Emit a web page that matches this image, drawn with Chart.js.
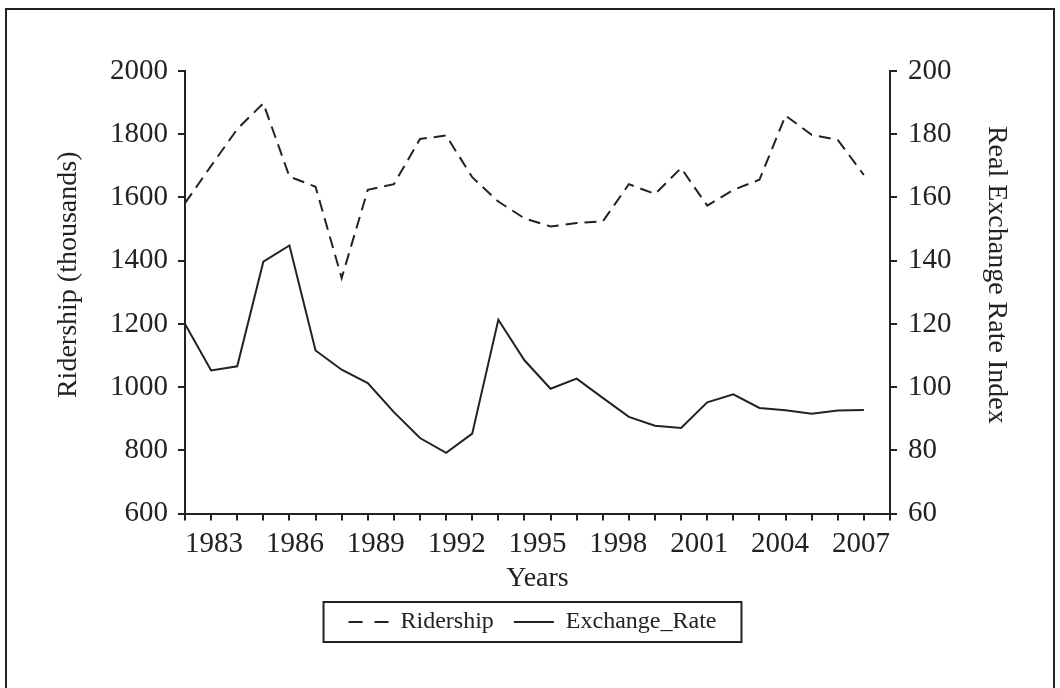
<!DOCTYPE html>
<html>
<head>
<meta charset="utf-8">
<script src="https://cdn.jsdelivr.net/npm/chart.js@4/dist/chart.umd.min.js"></script>
<style>
  html, body { margin: 0; padding: 0; background: #fff; overflow: hidden; }
  #wrap { position: relative; width: 1060px; height: 688px; }
  #frame { position: absolute; left: 5px; top: 8px; width: 1046px; height: 700px;
           border: 2px solid #222; pointer-events: none; }
</style>
</head>
<body>
<div id="wrap">
  <canvas id="myChart" width="1060" height="688"></canvas>
  <div id="frame"></div>
</div>
<script>
// one point per period, 1981 to 2007
const years = [1981, 1982, 1983, 1984, 1985, 1986, 1987, 1988, 1989, 1990, 1991, 1992, 1993, 1994,
               1995, 1996, 1997, 1998, 1999, 2000, 2001, 2002, 2003, 2004, 2005, 2006, 2007];
const ridership = [1582, 1700, 1816, 1898, 1666, 1634, 1345, 1624, 1642, 1785, 1796, 1664, 1587, 1534,
                   1508, 1519, 1524, 1642, 1611, 1693, 1574, 1624, 1656, 1859, 1798, 1782, 1671];
const exchangeRate = [120.0, 105.3, 106.6, 139.7, 144.8, 111.6, 105.5, 101.3, 92.1, 83.9, 79.2, 85.3, 121.3, 108.5,
                      99.5, 102.7, 96.6, 90.6, 87.8, 87.1, 95.2, 97.7, 93.4, 92.7, 91.6, 92.6, 92.8];
const yearTicks = [1983, 1986, 1989, 1992, 1995, 1998, 2001, 2004, 2007];

const ink = '#222';
Chart.defaults.font.family = '"Liberation Serif", "DejaVu Serif", serif';
Chart.defaults.color = ink;

// box round the legend, like the original
const legendBox = {
    id: 'legendBox',
    afterDraw(chart) {
        const boxes = chart.legend.legendHitBoxes;
        if (!boxes || !boxes.length) return;
        const left = Math.min(...boxes.map(b => b.left)) - 25;
        const right = Math.max(...boxes.map(b => b.left + b.width)) + 25;
        const mid = boxes[0].top + boxes[0].height / 2;
        const c = chart.ctx;
        c.save();
        c.strokeStyle = ink;
        c.lineWidth = 2;
        c.setLineDash([]);
        c.strokeRect(left, mid - 20, right - left, 40);
        c.restore();
    }
};

const ctx = document.getElementById('myChart');
const myChart = new Chart(ctx, {
    type: 'line',
    data: {
        labels: years.concat(['']),
        datasets: [{
            label: 'Ridership',
            data: ridership,
            yAxisID: 'y',
            borderColor: ink,
            backgroundColor: ink,
            borderWidth: 2,
            borderDash: [12, 7],
            pointRadius: 0,
            tension: 0
        }, {
            label: 'Exchange_Rate',
            data: exchangeRate,
            yAxisID: 'y2',
            borderColor: ink,
            backgroundColor: ink,
            borderWidth: 2,
            pointRadius: 0,
            tension: 0
        }]
    },
    options: {
        responsive: false,
        animation: false,
        layout: {
            padding: { left: 52, right: 47, top: 71, bottom: 44 }
        },
        plugins: {
            legend: {
                position: 'bottom',
                labels: {
                    font: { size: 24 },
                    usePointStyle: true,
                    pointStyle: 'line',
                    pointStyleWidth: 40,
                    padding: 20,
                    // dashed sample for the dashed line: two dashes, as in the original
                    generateLabels: chart =>
                        Chart.defaults.plugins.legend.labels.generateLabels(chart).map(item => ({
                            ...item,
                            lineDash: chart.data.datasets[item.datasetIndex].borderDash ? [14, 12] : [],
                            lineWidth: 2
                        }))
                }
            },
            tooltip: { enabled: false }
        },
        scales: {
            x: {
                weight: 0,
                offset: false,
                grid: {
                    drawOnChartArea: false,
                    drawTicks: true,
                    tickLength: 7,
                    color: ink,
                    lineWidth: 2
                },
                border: { color: ink, width: 2 },
                ticks: { display: false, autoSkip: false }
            },
            // year labels sit on their own axis, spaced as in the original
            xYears: {
                type: 'linear',
                position: 'bottom',
                weight: 1,
                min: 1981.92,
                max: 2008.08,
                grid: { display: false, drawTicks: false },
                border: { display: false },
                afterBuildTicks: scale => {
                    scale.ticks = yearTicks.map(v => ({ value: v }));
                },
                ticks: {
                    font: { size: 29 },
                    padding: 6,
                    maxRotation: 0,
                    autoSkip: false,
                    callback: v => String(v)
                },
                title: {
                    display: true,
                    text: 'Years',
                    font: { size: 28 },
                    padding: { top: -6, bottom: -5 }
                }
            },
            y: {
                position: 'left',
                min: 600,
                max: 2000,
                afterFit: scale => { scale.width = 133; },
                grid: {
                    drawOnChartArea: false,
                    tickLength: 7,
                    color: ink,
                    lineWidth: 2
                },
                border: { color: ink, width: 2 },
                ticks: { stepSize: 200, font: { size: 29 }, padding: 10, callback: v => String(v) },
                title: {
                    display: true,
                    text: '     Ridership (thousands)',
                    font: { size: 28 },
                    padding: 0
                }
            },
            y2: {
                position: 'right',
                min: 60,
                max: 200,
                afterFit: scale => { scale.width = 123; },
                grid: {
                    drawOnChartArea: false,
                    tickLength: 7,
                    color: ink,
                    lineWidth: 2
                },
                border: { color: ink, width: 2 },
                ticks: { stepSize: 20, font: { size: 29 }, padding: 11, callback: v => String(v) },
                title: {
                    display: true,
                    text: 'Real Exchange Rate Index     ',
                    font: { size: 28 },
                    padding: 0
                }
            }
        }
    },
    plugins: [legendBox]
});
</script>
</body>
</html>
